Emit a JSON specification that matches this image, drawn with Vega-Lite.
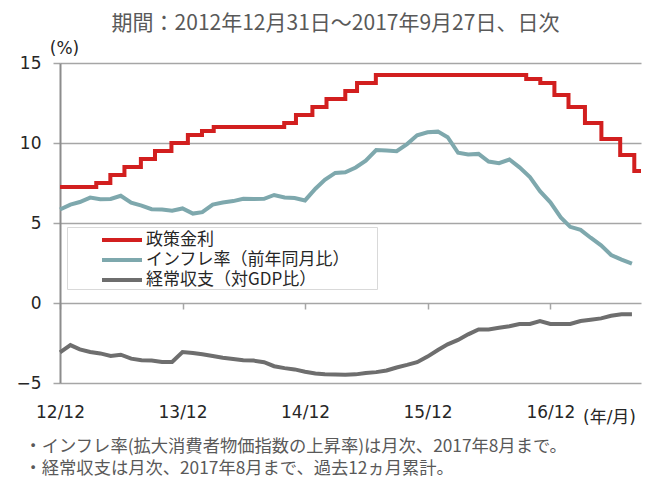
{
 "$schema": "https://vega.github.io/schema/vega-lite/v6.json",
 "width": 581, "height": 320,
 "autosize": {"type": "none"},
 "padding": {"left": 60, "top": 63, "right": 6, "bottom": 94},
 "background": "white",
 "config": {"view": {"stroke": null}, "font": "Noto Sans CJK JP"},
 "title": {"text": "期間：2012年12月31日～2017年9月27日、日次", "fontSize": 21, "font": "Noto Sans CJK JP", "fontWeight": "normal", "color": "#595959", "anchor": "middle", "frame": "group", "dx": -15, "dy": 22, "baseline": "alphabetic", "offset": 10},
 "data": {"values": [
  {"date": "2012-12-31", "series": "政策金利", "value": 7.25},
  {"date": "2013-04-18", "series": "政策金利", "value": 7.5},
  {"date": "2013-05-30", "series": "政策金利", "value": 8.0},
  {"date": "2013-07-11", "series": "政策金利", "value": 8.5},
  {"date": "2013-08-29", "series": "政策金利", "value": 9.0},
  {"date": "2013-10-10", "series": "政策金利", "value": 9.5},
  {"date": "2013-11-28", "series": "政策金利", "value": 10.0},
  {"date": "2014-01-16", "series": "政策金利", "value": 10.5},
  {"date": "2014-02-27", "series": "政策金利", "value": 10.75},
  {"date": "2014-04-03", "series": "政策金利", "value": 11.0},
  {"date": "2014-10-30", "series": "政策金利", "value": 11.25},
  {"date": "2014-12-04", "series": "政策金利", "value": 11.75},
  {"date": "2015-01-22", "series": "政策金利", "value": 12.25},
  {"date": "2015-03-05", "series": "政策金利", "value": 12.75},
  {"date": "2015-04-30", "series": "政策金利", "value": 13.25},
  {"date": "2015-06-04", "series": "政策金利", "value": 13.75},
  {"date": "2015-07-30", "series": "政策金利", "value": 14.25},
  {"date": "2016-10-20", "series": "政策金利", "value": 14.0},
  {"date": "2016-12-01", "series": "政策金利", "value": 13.75},
  {"date": "2017-01-12", "series": "政策金利", "value": 13.0},
  {"date": "2017-02-23", "series": "政策金利", "value": 12.25},
  {"date": "2017-04-13", "series": "政策金利", "value": 11.25},
  {"date": "2017-06-01", "series": "政策金利", "value": 10.25},
  {"date": "2017-07-27", "series": "政策金利", "value": 9.25},
  {"date": "2017-09-07", "series": "政策金利", "value": 8.25},
  {"date": "2017-09-27", "series": "政策金利", "value": 8.25},
  {"date": "2012-12-31", "series": "インフレ率（前年同月比）", "value": 5.84},
  {"date": "2013-01-31", "series": "インフレ率（前年同月比）", "value": 6.15},
  {"date": "2013-02-28", "series": "インフレ率（前年同月比）", "value": 6.31},
  {"date": "2013-03-31", "series": "インフレ率（前年同月比）", "value": 6.59},
  {"date": "2013-04-30", "series": "インフレ率（前年同月比）", "value": 6.49},
  {"date": "2013-05-31", "series": "インフレ率（前年同月比）", "value": 6.50},
  {"date": "2013-06-30", "series": "インフレ率（前年同月比）", "value": 6.70},
  {"date": "2013-07-31", "series": "インフレ率（前年同月比）", "value": 6.27},
  {"date": "2013-08-31", "series": "インフレ率（前年同月比）", "value": 6.09},
  {"date": "2013-09-30", "series": "インフレ率（前年同月比）", "value": 5.86},
  {"date": "2013-10-31", "series": "インフレ率（前年同月比）", "value": 5.84},
  {"date": "2013-11-30", "series": "インフレ率（前年同月比）", "value": 5.77},
  {"date": "2013-12-31", "series": "インフレ率（前年同月比）", "value": 5.91},
  {"date": "2014-01-31", "series": "インフレ率（前年同月比）", "value": 5.59},
  {"date": "2014-02-28", "series": "インフレ率（前年同月比）", "value": 5.68},
  {"date": "2014-03-31", "series": "インフレ率（前年同月比）", "value": 6.15},
  {"date": "2014-04-30", "series": "インフレ率（前年同月比）", "value": 6.28},
  {"date": "2014-05-31", "series": "インフレ率（前年同月比）", "value": 6.37},
  {"date": "2014-06-30", "series": "インフレ率（前年同月比）", "value": 6.52},
  {"date": "2014-07-31", "series": "インフレ率（前年同月比）", "value": 6.50},
  {"date": "2014-08-31", "series": "インフレ率（前年同月比）", "value": 6.51},
  {"date": "2014-09-30", "series": "インフレ率（前年同月比）", "value": 6.75},
  {"date": "2014-10-31", "series": "インフレ率（前年同月比）", "value": 6.59},
  {"date": "2014-11-30", "series": "インフレ率（前年同月比）", "value": 6.56},
  {"date": "2014-12-31", "series": "インフレ率（前年同月比）", "value": 6.41},
  {"date": "2015-01-31", "series": "インフレ率（前年同月比）", "value": 7.14},
  {"date": "2015-02-28", "series": "インフレ率（前年同月比）", "value": 7.70},
  {"date": "2015-03-31", "series": "インフレ率（前年同月比）", "value": 8.13},
  {"date": "2015-04-30", "series": "インフレ率（前年同月比）", "value": 8.17},
  {"date": "2015-05-31", "series": "インフレ率（前年同月比）", "value": 8.47},
  {"date": "2015-06-30", "series": "インフレ率（前年同月比）", "value": 8.89},
  {"date": "2015-07-31", "series": "インフレ率（前年同月比）", "value": 9.56},
  {"date": "2015-08-31", "series": "インフレ率（前年同月比）", "value": 9.53},
  {"date": "2015-09-30", "series": "インフレ率（前年同月比）", "value": 9.49},
  {"date": "2015-10-31", "series": "インフレ率（前年同月比）", "value": 9.93},
  {"date": "2015-11-30", "series": "インフレ率（前年同月比）", "value": 10.48},
  {"date": "2015-12-31", "series": "インフレ率（前年同月比）", "value": 10.67},
  {"date": "2016-01-31", "series": "インフレ率（前年同月比）", "value": 10.71},
  {"date": "2016-02-29", "series": "インフレ率（前年同月比）", "value": 10.36},
  {"date": "2016-03-31", "series": "インフレ率（前年同月比）", "value": 9.39},
  {"date": "2016-04-30", "series": "インフレ率（前年同月比）", "value": 9.28},
  {"date": "2016-05-31", "series": "インフレ率（前年同月比）", "value": 9.32},
  {"date": "2016-06-30", "series": "インフレ率（前年同月比）", "value": 8.84},
  {"date": "2016-07-31", "series": "インフレ率（前年同月比）", "value": 8.74},
  {"date": "2016-08-31", "series": "インフレ率（前年同月比）", "value": 8.97},
  {"date": "2016-09-30", "series": "インフレ率（前年同月比）", "value": 8.48},
  {"date": "2016-10-31", "series": "インフレ率（前年同月比）", "value": 7.87},
  {"date": "2016-11-30", "series": "インフレ率（前年同月比）", "value": 6.99},
  {"date": "2016-12-31", "series": "インフレ率（前年同月比）", "value": 6.29},
  {"date": "2017-01-31", "series": "インフレ率（前年同月比）", "value": 5.35},
  {"date": "2017-02-28", "series": "インフレ率（前年同月比）", "value": 4.76},
  {"date": "2017-03-31", "series": "インフレ率（前年同月比）", "value": 4.57},
  {"date": "2017-04-30", "series": "インフレ率（前年同月比）", "value": 4.08},
  {"date": "2017-05-31", "series": "インフレ率（前年同月比）", "value": 3.60},
  {"date": "2017-06-30", "series": "インフレ率（前年同月比）", "value": 3.00},
  {"date": "2017-07-31", "series": "インフレ率（前年同月比）", "value": 2.71},
  {"date": "2017-08-31", "series": "インフレ率（前年同月比）", "value": 2.46},
  {"date": "2012-12-31", "series": "経常収支（対GDP比）", "value": -3.08},
  {"date": "2013-01-31", "series": "経常収支（対GDP比）", "value": -2.63},
  {"date": "2013-02-28", "series": "経常収支（対GDP比）", "value": -2.9},
  {"date": "2013-03-31", "series": "経常収支（対GDP比）", "value": -3.06},
  {"date": "2013-04-30", "series": "経常収支（対GDP比）", "value": -3.15},
  {"date": "2013-05-31", "series": "経常収支（対GDP比）", "value": -3.31},
  {"date": "2013-06-30", "series": "経常収支（対GDP比）", "value": -3.23},
  {"date": "2013-07-31", "series": "経常収支（対GDP比）", "value": -3.48},
  {"date": "2013-08-31", "series": "経常収支（対GDP比）", "value": -3.58},
  {"date": "2013-09-30", "series": "経常収支（対GDP比）", "value": -3.6},
  {"date": "2013-10-31", "series": "経常収支（対GDP比）", "value": -3.69},
  {"date": "2013-11-30", "series": "経常収支（対GDP比）", "value": -3.69},
  {"date": "2013-12-31", "series": "経常収支（対GDP比）", "value": -3.06},
  {"date": "2014-01-31", "series": "経常収支（対GDP比）", "value": -3.12},
  {"date": "2014-02-28", "series": "経常収支（対GDP比）", "value": -3.2},
  {"date": "2014-03-31", "series": "経常収支（対GDP比）", "value": -3.31},
  {"date": "2014-04-30", "series": "経常収支（対GDP比）", "value": -3.42},
  {"date": "2014-05-31", "series": "経常収支（対GDP比）", "value": -3.5},
  {"date": "2014-06-30", "series": "経常収支（対GDP比）", "value": -3.58},
  {"date": "2014-07-31", "series": "経常収支（対GDP比）", "value": -3.6},
  {"date": "2014-08-31", "series": "経常収支（対GDP比）", "value": -3.7},
  {"date": "2014-09-30", "series": "経常収支（対GDP比）", "value": -3.95},
  {"date": "2014-10-31", "series": "経常収支（対GDP比）", "value": -4.07},
  {"date": "2014-11-30", "series": "経常収支（対GDP比）", "value": -4.15},
  {"date": "2014-12-31", "series": "経常収支（対GDP比）", "value": -4.3},
  {"date": "2015-01-31", "series": "経常収支（対GDP比）", "value": -4.4},
  {"date": "2015-02-28", "series": "経常収支（対GDP比）", "value": -4.46},
  {"date": "2015-03-31", "series": "経常収支（対GDP比）", "value": -4.47},
  {"date": "2015-04-30", "series": "経常収支（対GDP比）", "value": -4.48},
  {"date": "2015-05-31", "series": "経常収支（対GDP比）", "value": -4.46},
  {"date": "2015-06-30", "series": "経常収支（対GDP比）", "value": -4.37},
  {"date": "2015-07-31", "series": "経常収支（対GDP比）", "value": -4.32},
  {"date": "2015-08-31", "series": "経常収支（対GDP比）", "value": -4.22},
  {"date": "2015-09-30", "series": "経常収支（対GDP比）", "value": -4.03},
  {"date": "2015-10-31", "series": "経常収支（対GDP比）", "value": -3.87},
  {"date": "2015-11-30", "series": "経常収支（対GDP比）", "value": -3.7},
  {"date": "2015-12-31", "series": "経常収支（対GDP比）", "value": -3.35},
  {"date": "2016-01-31", "series": "経常収支（対GDP比）", "value": -2.94},
  {"date": "2016-02-29", "series": "経常収支（対GDP比）", "value": -2.58},
  {"date": "2016-03-31", "series": "経常収支（対GDP比）", "value": -2.31},
  {"date": "2016-04-30", "series": "経常収支（対GDP比）", "value": -1.96},
  {"date": "2016-05-31", "series": "経常収支（対GDP比）", "value": -1.65},
  {"date": "2016-06-30", "series": "経常収支（対GDP比）", "value": -1.65},
  {"date": "2016-07-31", "series": "経常収支（対GDP比）", "value": -1.55},
  {"date": "2016-08-31", "series": "経常収支（対GDP比）", "value": -1.45},
  {"date": "2016-09-30", "series": "経常収支（対GDP比）", "value": -1.32},
  {"date": "2016-10-31", "series": "経常収支（対GDP比）", "value": -1.31},
  {"date": "2016-11-30", "series": "経常収支（対GDP比）", "value": -1.13},
  {"date": "2016-12-31", "series": "経常収支（対GDP比）", "value": -1.31},
  {"date": "2017-01-31", "series": "経常収支（対GDP比）", "value": -1.31},
  {"date": "2017-02-28", "series": "経常収支（対GDP比）", "value": -1.31},
  {"date": "2017-03-31", "series": "経常収支（対GDP比）", "value": -1.13},
  {"date": "2017-04-30", "series": "経常収支（対GDP比）", "value": -1.05},
  {"date": "2017-05-31", "series": "経常収支（対GDP比）", "value": -0.96},
  {"date": "2017-06-30", "series": "経常収支（対GDP比）", "value": -0.8},
  {"date": "2017-07-31", "series": "経常収支（対GDP比）", "value": -0.7},
  {"date": "2017-08-31", "series": "経常収支（対GDP比）", "value": -0.7}
 ]},
 "layer": [
  {
   "transform": [{"filter": "datum.series === '政策金利'"}],
   "mark": {"type": "line", "interpolate": "step-after", "strokeWidth": 4, "strokeCap": "butt", "strokeJoin": "miter"},
   "encoding": {
    "x": {"field": "date", "type": "temporal",
      "scale": {"type": "utc", "domain": [{"year": 2012, "month": 12, "date": 31, "utc": true}, {"year": 2017, "month": 9, "date": 27, "utc": true}]},
      "axis": {"orient": "bottom",
        "values": [{"year": 2012, "month": 12, "date": 31, "utc": true}, {"year": 2013, "month": 12, "date": 31, "utc": true}, {"year": 2014, "month": 12, "date": 31, "utc": true}, {"year": 2015, "month": 12, "date": 31, "utc": true}, {"year": 2016, "month": 12, "date": 31, "utc": true}],
        "format": "%y/%m", "labelFont": "DejaVu Sans", "labelFontSize": 17, "labelColor": "#262626", "labelPadding": 21,
        "ticks": false, "tickSize": 0, "domain": false, "grid": false, "labelFlush": false, "labelOverlap": false,
        "title": ["・インフレ率(拡大消費者物価指数の上昇率)は月次、2017年8月まで。", "・経常収支は月次、2017年8月まで、過去12ヵ月累計。"],
        "titleFont": "Noto Sans CJK JP", "titleFontSize": 17.3, "titleFontWeight": "normal", "titleColor": "#595959",
        "titleAlign": "left", "titleAnchor": "start", "titleX": -36, "titleY": 68, "titleBaseline": "alphabetic", "titleLineHeight": 22}},
    "y": {"field": "value", "type": "quantitative", "title": "(%)",
      "scale": {"domain": [-5, 15], "nice": false, "zero": false},
      "axis": {"values": [-5, 0, 5, 10, 15], "grid": true, "gridColor": "#a6a6a6", "gridWidth": 1.5,
        "domain": true, "domainColor": "#8c8c8c", "domainWidth": 2,
        "ticks": true, "tickSize": 7, "tickColor": "#a6a6a6", "tickWidth": 1.5,
        "labelFont": "DejaVu Sans", "labelFontSize": 17, "labelColor": "#262626", "labelPadding": 12,
        "titleAngle": 0, "titleX": 4, "titleY": -15, "titleAlign": "center", "titleBaseline": "middle",
        "titleFont": "DejaVu Sans", "titleFontSize": 17, "titleFontWeight": "normal", "titleColor": "#262626"}},
    "color": {"field": "series", "type": "nominal",
      "scale": {"domain": ["政策金利", "インフレ率（前年同月比）", "経常収支（対GDP比）"], "range": ["#d21f1f", "#7ea8ad", "#6e6e6e"]},
      "legend": {"orient": "none", "legendX": 7, "legendY": 164, "direction": "vertical", "title": null,
        "fillColor": "white", "strokeColor": "#d9d9d9", "padding": 1,
        "symbolType": "M2.2,0H6.2", "symbolSize": 400, "symbolStrokeWidth": 4,
        "labelFont": "Noto Sans CJK JP", "labelFontSize": 17, "labelColor": "#262626", "labelOffset": 54, "labelLimit": 500,
        "labelExpr": "datum.label + '\u3000\u3000\u200b'",
        "rowPadding": 0}}
   }
  },
  {
   "transform": [{"filter": "datum.series !== '政策金利'"}],
   "mark": {"type": "line", "strokeWidth": 4, "strokeCap": "butt"},
   "encoding": {
    "x": {"field": "date", "type": "temporal",
      "axis": {"orient": "bottom", "offset": -80,
        "values": [{"year": 2012, "month": 12, "date": 31, "utc": true}, {"year": 2013, "month": 12, "date": 31, "utc": true}, {"year": 2014, "month": 12, "date": 31, "utc": true}, {"year": 2015, "month": 12, "date": 31, "utc": true}, {"year": 2016, "month": 12, "date": 31, "utc": true}],
        "labels": false, "ticks": true, "tickSize": 6, "tickColor": "#a6a6a6", "tickWidth": 1.5, "domain": false, "grid": false,
        "title": "(年/月)", "titleFont": "DejaVu Sans, Noto Sans CJK JP", "titleFontSize": 17, "titleFontWeight": "normal", "titleColor": "#262626",
        "titleX": 549, "titleY": 114, "titleAlign": "center", "titleBaseline": "middle", "titleAnchor": null}},
    "y": {"field": "value", "type": "quantitative", "title": "(%)"},
    "color": {"field": "series", "type": "nominal"}
   }
  }
 ],
 "resolve": {"axis": {"x": "independent"}}
}
